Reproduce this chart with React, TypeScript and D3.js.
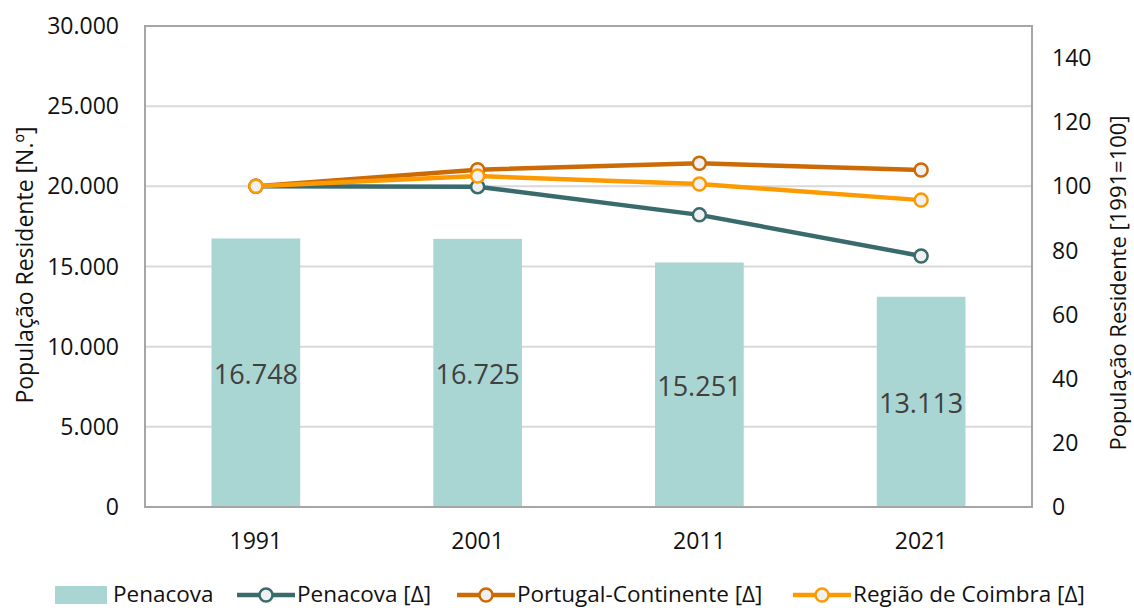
import React, { useEffect, useRef } from "react";
import * as d3 from "d3";

// chart values
const years = ["1991", "2001", "2011", "2021"];
const penacovaPop = [16748, 16725, 15251, 13113];
const penacovaIdx = [100, 99.9, 91.1, 78.3];
const portugalIdx = [100, 105.2, 107.2, 105.1];
const coimbraIdx = [100, 103.2, 100.7, 95.7];
const leftTicks = [0, 5000, 10000, 15000, 20000, 25000, 30000];
const rightTicks = [0, 20, 40, 60, 80, 100, 120, 140];

const W = 1134;
const H = 608;
const FONT = "'Open Sans', sans-serif";

export default function App() {
  const ref = useRef<SVGSVGElement>(null);

  useEffect(() => {
    const svg = d3.select(ref.current);
    svg.selectAll("*").remove();

    const plot = { left: 145, right: 1032, top: 26, bottom: 507 };

    const x = d3.scaleBand().domain(years).range([plot.left, plot.right]).paddingInner(0.6).paddingOuter(0.3);
    const xc = (i: number) => x(years[i])! + x.bandwidth() / 2;
    const yL = d3.scaleLinear().domain([0, 30000]).range([plot.bottom, plot.top]);
    const yR = d3.scaleLinear().domain([0, 150]).range([plot.bottom, plot.top]);
    const fmt = (v: number) => d3.format(",")(v).replace(/,/g, ".");

    // gridlines
    svg.append("g").selectAll("line").data(leftTicks.slice(1, -1)).join("line")
      .attr("x1", plot.left).attr("x2", plot.right)
      .attr("y1", d => yL(d)).attr("y2", d => yL(d))
      .attr("stroke", "#d9d9d9").attr("stroke-width", 2);

    // bars
    svg.append("g").selectAll("rect").data(penacovaPop).join("rect")
      .attr("x", (d, i) => x(years[i])!)
      .attr("y", d => yL(d))
      .attr("width", x.bandwidth())
      .attr("height", d => plot.bottom - yL(d))
      .attr("fill", "#a9d6d3");

    // bar labels
    svg.append("g").selectAll("text").data(penacovaPop).join("text")
      .attr("x", (d, i) => xc(i))
      .attr("y", d => (yL(d) + plot.bottom) / 2 + 2)
      .attr("dy", "0.35em")
      .attr("text-anchor", "middle")
      .attr("font-family", FONT).attr("font-size", 27)
      .attr("fill", "#404040")
      .text(d => fmt(d));

    // frame
    svg.append("rect")
      .attr("x", plot.left).attr("y", plot.top)
      .attr("width", plot.right - plot.left).attr("height", plot.bottom - plot.top)
      .attr("fill", "none").attr("stroke", "#a6a6a6").attr("stroke-width", 2);

    // lines
    const series = [
      { name: "Penacova [Δ]", vals: penacovaIdx, color: "#396a6c" },
      { name: "Portugal-Continente [Δ]", vals: portugalIdx, color: "#cc6a06" },
      { name: "Região de Coimbra [Δ]", vals: coimbraIdx, color: "#fd9a00" },
    ];
    const line = d3.line<number>().x((d, i) => xc(i)).y(d => yR(d));
    series.forEach(s => {
      const g = svg.append("g");
      g.append("path").attr("d", line(s.vals)).attr("fill", "none")
        .attr("stroke", s.color).attr("stroke-width", 4.5).attr("stroke-linejoin", "round");
      g.selectAll("circle").data(s.vals).join("circle")
        .attr("cx", (d, i) => xc(i)).attr("cy", d => yR(d)).attr("r", 6.5)
        .attr("fill", "#f0f0f0").attr("stroke", s.color).attr("stroke-width", 2.5);
    });

    // left axis labels
    svg.append("g").selectAll("text").data(leftTicks).join("text")
      .attr("x", 119).attr("y", d => yL(d)).attr("dy", "0.35em")
      .attr("text-anchor", "end").attr("font-family", FONT).attr("font-size", 23)
      .attr("fill", "#111").text(d => fmt(d));

    // right axis labels
    svg.append("g").selectAll("text").data(rightTicks).join("text")
      .attr("x", 1052).attr("y", d => yR(d)).attr("dy", "0.35em")
      .attr("text-anchor", "start").attr("font-family", FONT).attr("font-size", 23)
      .attr("fill", "#111").text(d => d);

    // category labels
    svg.append("g").selectAll("text").data(years).join("text")
      .attr("x", (d, i) => xc(i)).attr("y", 541).attr("dy", "0.35em")
      .attr("text-anchor", "middle").attr("font-family", FONT).attr("font-size", 23)
      .attr("fill", "#111").text(d => d);

    // axis titles
    svg.append("text")
      .attr("transform", `translate(25, 265) rotate(-90)`)
      .attr("dy", "0.35em").attr("text-anchor", "middle")
      .attr("font-family", FONT).attr("font-size", 23).attr("fill", "#111")
      .text("População Residente [N.º]");
    svg.append("text")
      .attr("transform", `translate(1118, 283) rotate(-90)`)
      .attr("dy", "0.35em").attr("text-anchor", "middle")
      .attr("font-family", FONT).attr("font-size", 22).attr("fill", "#111")
      .text("População Residente [1991=100]");

    // legend
    const ly = 594;
    const leg = svg.append("g");
    leg.append("rect").attr("x", 55).attr("y", ly - 8).attr("width", 52).attr("height", 18).attr("fill", "#a9d6d3");
    leg.append("text").attr("x", 113).attr("y", ly).attr("dy", "0.35em")
      .attr("font-family", FONT).attr("font-size", 22.5).attr("fill", "#111").text("Penacova");
    const lx = [237, 457, 793];
    series.forEach((s, i) => {
      leg.append("line").attr("x1", lx[i]).attr("x2", lx[i] + 58).attr("y1", ly + 1).attr("y2", ly + 1)
        .attr("stroke", s.color).attr("stroke-width", 4.5);
      leg.append("circle").attr("cx", lx[i] + 29).attr("cy", ly + 1).attr("r", 6.5)
        .attr("fill", "#f0f0f0").attr("stroke", s.color).attr("stroke-width", 2.5);
      leg.append("text").attr("x", lx[i] + 60).attr("y", ly).attr("dy", "0.35em")
        .attr("font-family", FONT).attr("font-size", 22.5).attr("fill", "#111").text(s.name);
    });
  }, []);

  return (
    <svg ref={ref} width={W} height={H}
      style={{ position: "absolute", left: 0, top: 0, background: "#fff" }} />
  );
}
